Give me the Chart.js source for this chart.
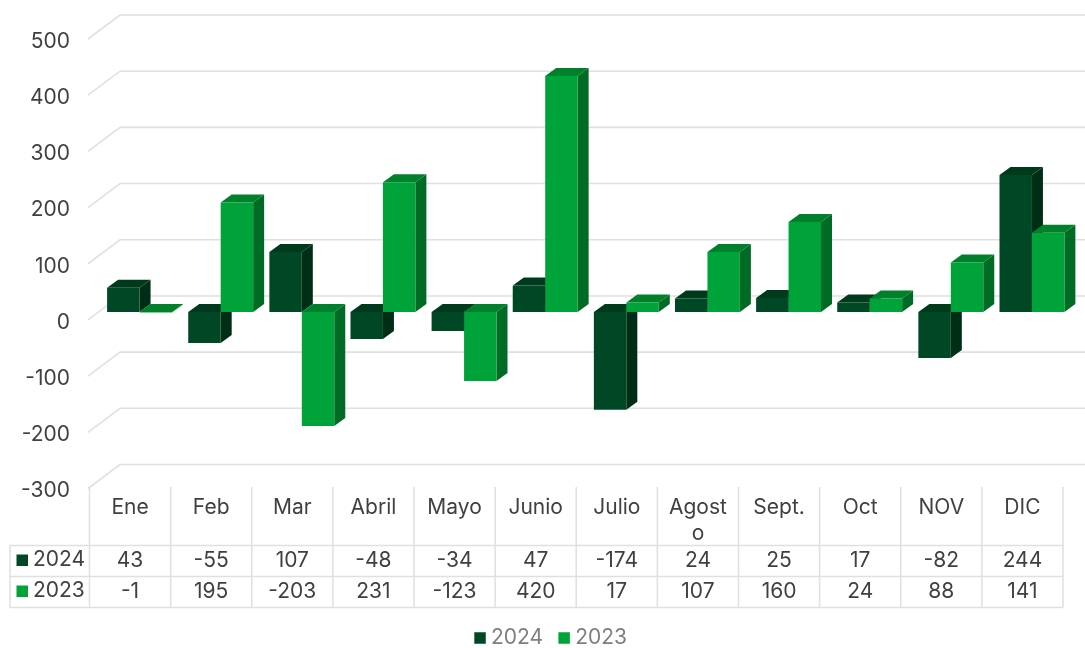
<!DOCTYPE html>
<html lang="es">
<head>
<meta charset="utf-8">
<style>html,body{margin:0;padding:0;background:#fff}canvas{display:block}</style>
<script src="https://cdn.jsdelivr.net/npm/chart.js@4"></script>
</head>
<body>
<canvas id="c" width="1085" height="648"></canvas>
<script>
const categories = ['Ene','Feb','Mar','Abril','Mayo','Junio','Julio',['Agost','o'],'Sept.','Oct','NOV','DIC'];
const series2024 = [43,-55,107,-48,-34,47,-174,24,25,17,-82,244];
const series2023 = [-1,195,-203,231,-123,420,17,107,160,24,88,141];
const seriesNames = ['2024','2023'];
const tickStep = 100;

const FONT = 'Inter, "Open Sans", sans-serif';
const TEXT = '#404040', GRID = '#e0e0e0';
const faces = [
  {front:'#004825', side:'#002d16', top:'#003a1d'},
  {front:'#00a339', side:'#006b25', top:'#00802b'}
];
const DEPTH = {wallX:32, wallY:24, barX:11, barY:8, planeShift:9.5};

const threeD = {
  id:'threeD',
  afterLayout(chart){
    chart.legend.left += 17; chart.legend.right += 17;
  },
  beforeDatasetsDraw(chart){
    const {ctx, scales:{y}} = chart;
    ctx.save();
    ctx.strokeStyle = GRID; ctx.lineWidth = 1.6;
    y.ticks.forEach(t=>{
      const py = y.getPixelForValue(t.value);
      ctx.beginPath();
      ctx.moveTo(88, py);
      ctx.lineTo(88+DEPTH.wallX, py-DEPTH.wallY);
      ctx.lineTo(1085, py-DEPTH.wallY);
      ctx.stroke();
    });
    const m0 = chart.getDatasetMeta(0).data, m1 = chart.getDatasetMeta(1).data;
    m0.forEach((_,i)=>{
      [m0[i],m1[i]].forEach((b,k)=>{
        const hw = b.width/2, x1 = b.x+hw, x0 = b.x-hw;
        const t = Math.min(b.y,b.base), bt = Math.max(b.y,b.base);
        const dx = DEPTH.barX, dy = DEPTH.barY;
        ctx.fillStyle = faces[k].side;
        ctx.beginPath();
        ctx.moveTo(x1,t);ctx.lineTo(x1+dx,t-dy);ctx.lineTo(x1+dx,bt-dy);ctx.lineTo(x1,bt);ctx.closePath();ctx.fill();
        ctx.fillStyle = faces[k].top;
        ctx.beginPath();
        ctx.moveTo(x0,t);ctx.lineTo(x0+dx,t-dy);ctx.lineTo(x1+dx,t-dy);ctx.lineTo(x1,t);ctx.closePath();ctx.fill();
      });
    });
    ctx.restore();
  },
  afterDraw(chart){
    const {ctx, scales:{x}, data} = chart;
    const n = categories.length;
    const cw = (x.right-x.left)/n, L = x.left-DEPTH.planeShift;
    const R = L+cw*n, rows=[545.5,576.5,607.5];
    ctx.save();
    ctx.strokeStyle = GRID; ctx.lineWidth = 1.5;
    ctx.beginPath();
    rows.forEach(r=>{ctx.moveTo(10,r);ctx.lineTo(R,r);});
    ctx.moveTo(10,rows[0]);ctx.lineTo(10,rows[2]);
    for(let i=0;i<=n;i++){ctx.moveTo(L+i*cw,487);ctx.lineTo(L+i*cw,rows[2]);}
    ctx.stroke();
    ctx.font = '21px '+FONT; ctx.fillStyle = TEXT; ctx.textBaseline='middle';
    const yy=[561,592];
    data.datasets.forEach((d,k)=>{
      ctx.fillStyle = faces[k].front;
      ctx.fillRect(16.5,yy[k]-6.5,11.5,11.5);
      ctx.fillStyle = TEXT;
      ctx.textAlign='left';
      ctx.fillText(d.label,33,yy[k]-1.5);
      ctx.textAlign='center';
      d.data.forEach((v,i)=>ctx.fillText(String(v),L+(i+.5)*cw,yy[k]));
    });
    ctx.restore();
  }
};

new Chart(document.getElementById('c'),{
  type:'bar',
  data:{labels:categories,datasets:[
    {label:seriesNames[0],data:series2024,backgroundColor:faces[0].front,yAxisID:'yBars',categoryPercentage:0.8,barPercentage:1},
    {label:seriesNames[1],data:series2023,backgroundColor:faces[1].front,yAxisID:'yBars',categoryPercentage:0.8,barPercentage:1}
  ]},
  options:{
    responsive:false,animation:false,
    layout:{autoPadding:false,padding:{top:15,left:0,right:12.5,bottom:-10.5}},
    plugins:{
      tooltip:{enabled:false},
      legend:{position:'bottom',labels:{
        color:'#7f7f7f',font:{family:FONT,size:21},
        usePointStyle:true,pointStyle:'rect',boxWidth:1,boxHeight:11.5,padding:20.5
      }}
    },
    scales:{
      x:{
        grid:{display:false,drawTicks:false},border:{display:false},
        ticks:{autoSkip:false,maxRotation:0,minRotation:0,padding:6,labelOffset:-9.5,color:TEXT,
               font:{family:FONT,size:21,lineHeight:1.25}},
        afterFit(s){s.height=118.5;}
      },
      y:{
        min:-300,max:542.7,position:'left',
        grid:{display:false,drawTicks:false},border:{display:false},
        ticks:{stepSize:tickStep,includeBounds:false,padding:29,labelOffset:2.5,color:TEXT,font:{family:FONT,size:21}},
        afterFit(s){s.width=99;s.paddingTop=0;s.paddingBottom=0;}
      },
      yBars:{min:-314.1,max:528.6,display:false}
    }
  },
  plugins:[threeD]
});
</script>
</body>
</html>
